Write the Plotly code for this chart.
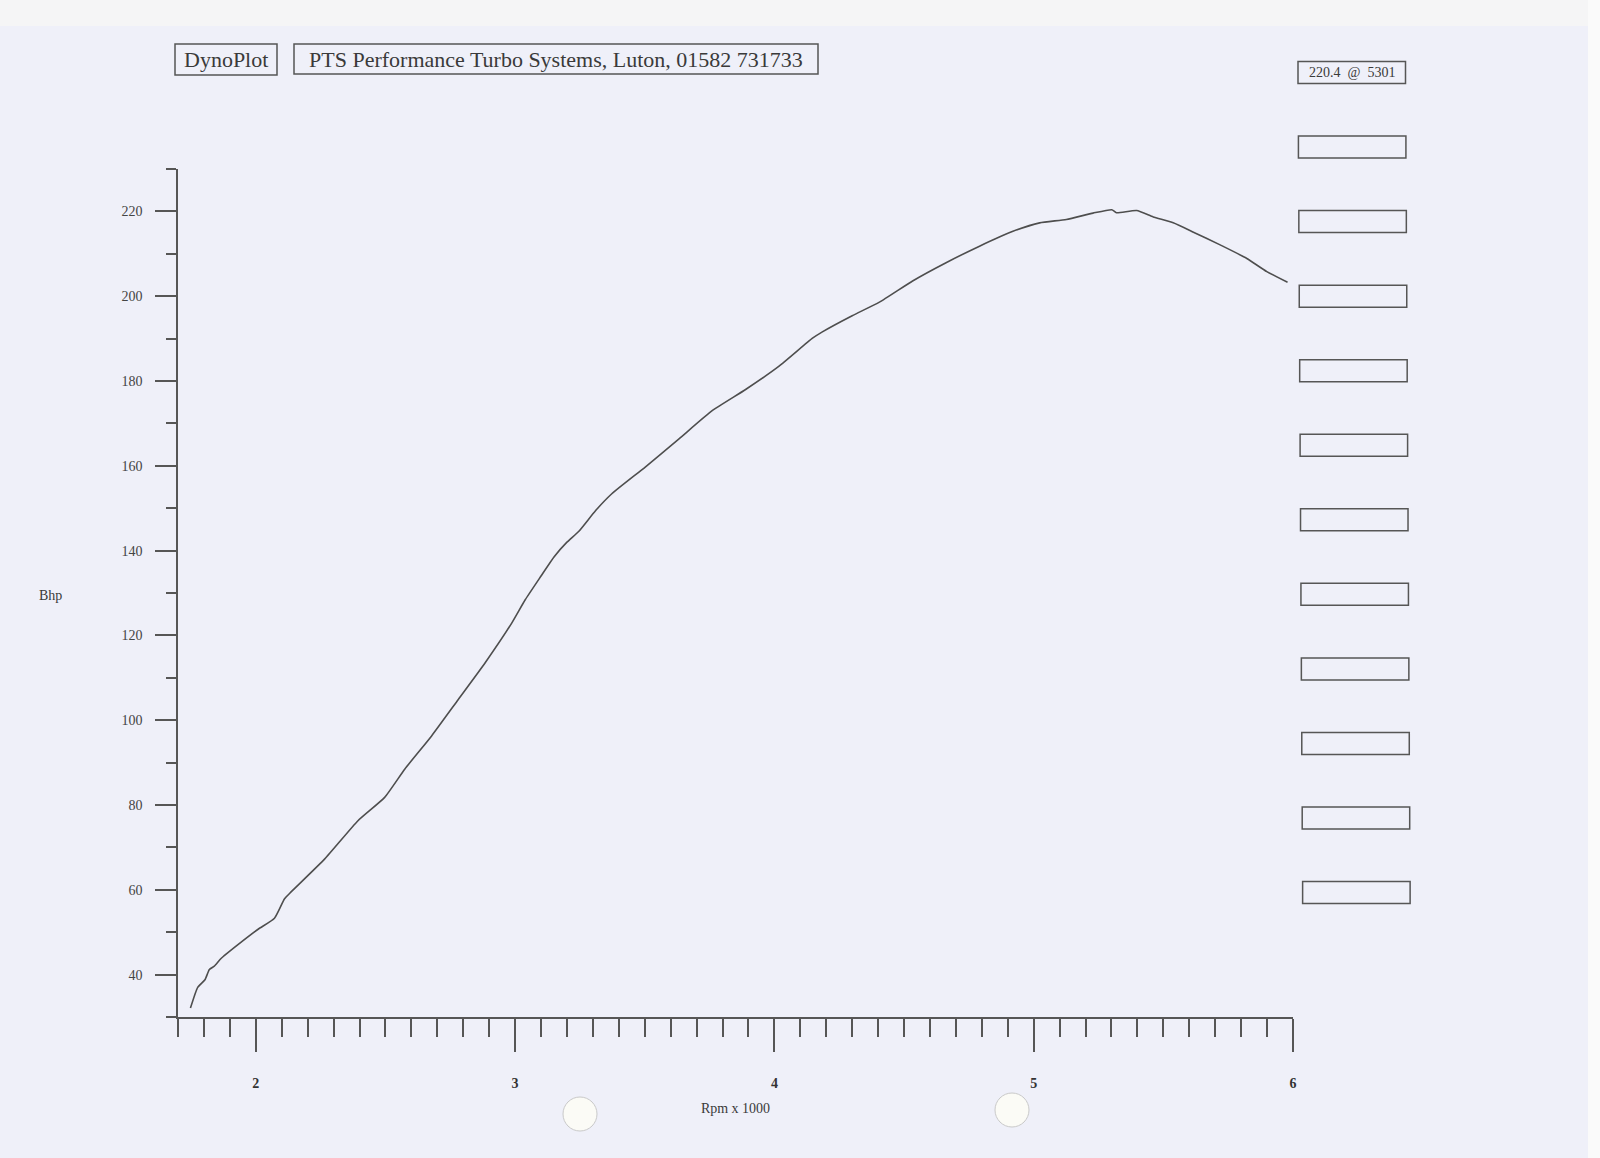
import plotly.graph_objects as go

# ---------------- data (read from the dyno sheet) ----------------
rpm_k = [1.748, 1.776, 1.804, 1.821, 1.840, 1.866, 1.930, 2.009, 2.072, 2.111,
         2.136, 2.266, 2.394, 2.497, 2.575, 2.678, 2.781, 2.884, 2.987, 3.039,
         3.100, 3.150, 3.200, 3.245, 3.310, 3.373, 3.502, 3.631, 3.760, 3.889,
         4.018, 4.147, 4.185, 4.300, 4.405, 4.533, 4.662, 4.791, 4.920, 5.023,
         5.126, 5.229, 5.301, 5.319, 5.397, 5.461, 5.538, 5.616, 5.719, 5.822,
         5.899, 5.979]
bhp = [32.1, 37.0, 38.8, 41.2, 42.0, 43.8, 47.0, 50.7, 53.3, 57.9,
       59.5, 67.3, 76.3, 81.8, 88.5, 96.3, 104.9, 113.5, 122.9, 128.4,
       134.0, 138.5, 142.0, 144.5, 149.4, 153.4, 159.7, 166.3, 173.0, 178.0,
       183.5, 190.1, 191.6, 195.4, 198.6, 203.6, 207.9, 211.8, 215.3, 217.3,
       218.1, 219.6, 220.4, 219.7, 220.2, 218.7, 217.3, 215.1, 212.1, 208.9,
       205.8, 203.3]

x_major_ticks = [2, 3, 4, 5, 6]
x_tick_labels = ["2", "3", "4", "5", "6"]
y_major_ticks = [40, 60, 80, 100, 120, 140, 160, 180, 200, 220]
y_tick_labels = [str(v) for v in y_major_ticks]

header_texts = ["DynoPlot", "PTS Performance Turbo Systems, Luton, 01582 731733"]
x_title = "Rpm x 1000"
y_title = "Bhp"
n_empty_boxes = 11

# ---------------- layout geometry (pixels) ----------------
FW, FH = 1600, 1158
L, R, T, B = 178, 307, 169, 141
W = FW - L - R
H = FH - T - B


def px(x):
    return (x - L) / W


def py(y):
    return 1 - (y - T) / H


INK = "#565656"
TXT = "#3a3a3a"
SERIF = "Liberation Serif, Times New Roman, serif"
BG = "#eff0f9"

fig = go.Figure()
fig.add_trace(go.Scatter(x=rpm_k, y=bhp, mode="lines",
                         line=dict(color="#4e4e4e", width=1.6,
                                   shape="spline", smoothing=0.5),
                         hoverinfo="skip", showlegend=False))

shapes = []
annotations = []

# scanner borders
shapes.append(dict(type="rect", xref="paper", yref="paper", layer="below",
                   x0=px(0), x1=px(FW), y0=py(26), y1=py(0),
                   fillcolor="#f5f5f6", line=dict(width=0)))
shapes.append(dict(type="rect", xref="paper", yref="paper", layer="below",
                   x0=px(1588), x1=px(FW), y0=py(FH), y1=py(0),
                   fillcolor="#fafafa", line=dict(width=0)))


def box(x0, y0, x1, y1):
    shapes.append(dict(type="rect", xref="paper", yref="paper",
                       x0=px(x0), x1=px(x1), y0=py(y1), y1=py(y0),
                       line=dict(color=INK, width=1.5),
                       fillcolor="rgba(0,0,0,0)"))


def label(text, cx, cy, size, color=TXT, weight="normal"):
    annotations.append(dict(text=text, xref="paper", yref="paper",
                            x=px(cx), y=py(cy), xanchor="center",
                            yanchor="middle", showarrow=False,
                            font=dict(family=SERIF, size=size, color=color,
                                      weight=weight)))


# header boxes
box(175, 44, 277, 75)
label(header_texts[0], 226, 60, 22)
box(294, 44, 818, 74)
label(header_texts[1], 556, 59.5, 22)

# peak box and empty result boxes
i_peak = max(range(len(bhp)), key=lambda i: bhp[i])
peak_text = f"{bhp[i_peak]:.1f}\u00a0\u00a0@\u00a0\u00a0{round(rpm_k[i_peak] * 1000)}"
spacing = 74.55
for i in range(n_empty_boxes + 1):
    cy = 72.5 + i * spacing
    xl = 1298 + i * 0.42
    box(xl, cy - 11, xl + 107.5, cy + 11)
    if i == 0:
        label(peak_text, xl + 53.5, cy, 14)

# y-axis label (horizontal)
label(y_title, 51, 595, 14)

# punch holes
for cx, cy in [(580, 1114), (1012, 1110)]:
    shapes.append(dict(type="circle", xref="paper", yref="paper",
                       x0=px(cx - 17), x1=px(cx + 17),
                       y0=py(cy + 17), y1=py(cy - 17),
                       fillcolor="#fbfbf6", line=dict(color="#c9c9c9", width=1)))

fig.update_layout(
    width=FW, height=FH,
    margin=dict(l=L, r=R, t=T, b=B, pad=0),
    paper_bgcolor=BG, plot_bgcolor=BG,
    showlegend=False,
    shapes=shapes, annotations=annotations,
    font=dict(family=SERIF, color=TXT),
)

fig.update_xaxes(
    range=[1.7, 6.0], showgrid=False, zeroline=False,
    showline=True, linecolor=INK, linewidth=1.5,
    tickmode="array", tickvals=x_major_ticks, ticktext=x_tick_labels,
    ticks="outside", ticklen=33, tickwidth=1.5, tickcolor=INK,
    ticklabelstandoff=19,
    tickfont=dict(family=SERIF, size=14, color="#333", weight="bold"),
    minor=dict(ticks="outside", dtick=0.1, tick0=1.7, ticklen=18,
               tickwidth=1.5, tickcolor=INK, showgrid=False),
    title=dict(text=x_title, font=dict(family=SERIF, size=14, color=TXT),
               standoff=14),
)

fig.update_yaxes(
    range=[30, 230], showgrid=False, zeroline=False,
    showline=True, linecolor=INK, linewidth=1.5,
    tickmode="array", tickvals=y_major_ticks, ticktext=y_tick_labels,
    ticks="outside", ticklen=21, tickwidth=1.5, tickcolor=INK,
    ticklabelstandoff=10,
    tickfont=dict(family=SERIF, size=14, color="#444"),
    minor=dict(ticks="outside", dtick=10, tick0=30, ticklen=10,
               tickwidth=1.5, tickcolor=INK, showgrid=False),
)

fig.write_html("out.html", config={"displayModeBar": False},
               post_script="document.body.style.margin='0';document.body.style.overflow='hidden';")
